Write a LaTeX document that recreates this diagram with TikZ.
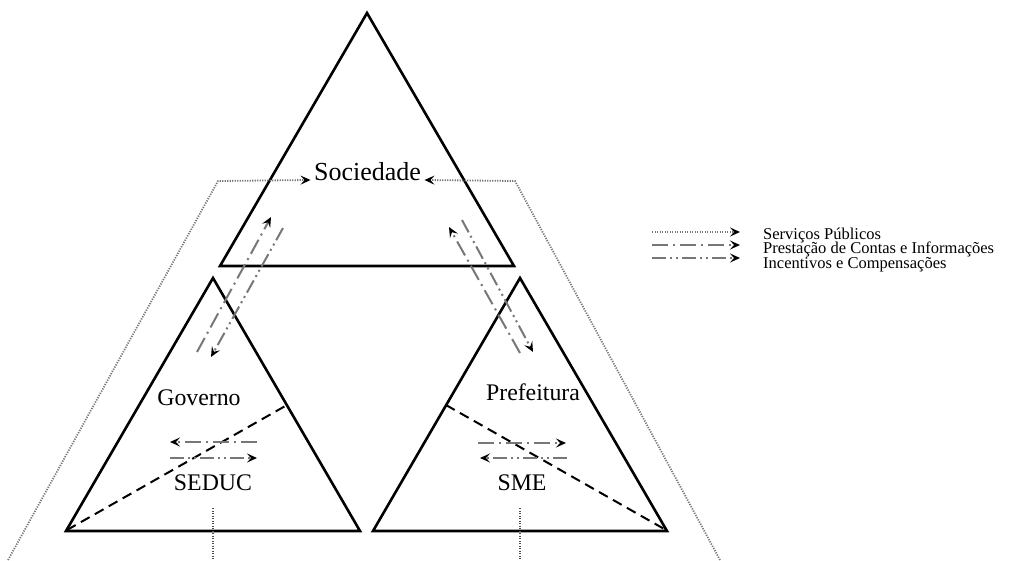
\documentclass[tikz,border=0pt]{standalone}
\usepackage{fontspec}
\setmainfont{Liberation Serif}
\usetikzlibrary{arrows.meta}
\definecolor{flgray}{HTML}{777777}
\tikzset{
  tri/.style    ={line width=2.6pt, line join=miter},
  split/.style  ={line width=2pt, dash pattern=on 10pt off 6pt},
  servico/.style={flgray, line width=1.8pt, dash pattern=on 1.2pt off 1.3pt},
  conta/.style  ={flgray, line width=2pt, dash pattern=on 16pt off 5pt on 2pt off 5pt},
  incent/.style ={flgray, line width=2pt, dash pattern=on 14pt off 4pt on 2pt off 4pt on 2pt off 4pt},
  tip/.style    ={-{Stealth[length=10pt,width=9pt,inset=4pt,color=black]}},
  big/.style    ={font=\fontsize{26}{30}\selectfont, anchor=base},
  mid/.style    ={font=\fontsize{23.8}{28}\selectfont, anchor=base},
  leg/.style    ={font=\fontsize{16.5}{17}\selectfont, anchor=base west, inner sep=0pt},
}
\begin{document}
\begin{tikzpicture}[x=1pt,y=-1pt]
  \useasboundingbox (0,0) rectangle (1024,560);
  % --- the three triangles ---
  \draw[tri] (367,13) -- (514,266) -- (220,266) -- cycle;
  \draw[tri] (213,278) -- (360,531) -- (66,531) -- cycle;
  \draw[tri] (520,278) -- (667,531) -- (373,531) -- cycle;
  \draw[split] (67,530) -- (287,405);
  \draw[split] (446,405) -- (666,530);
  % --- labels ---
  \node[big] (soc) at (367.5,180) {Sociedade};
  \node[mid] (gov) at (199,405) {Governo};
  \node[mid] (sed) at (213,490) {SEDUC};
  \node[mid] (pre) at (533,400) {Prefeitura};
  \node[mid] (sme) at (522,490) {SME};
  % --- public services (dotted) ---
  \coordinate (sl) at (8,560);  \coordinate (slc) at (218,181);
  \coordinate (sr) at (720,560); \coordinate (src) at (515,181);
  \draw[servico,tip] (sl) -- (slc) -- (soc.base west);
  \draw[servico,tip] (sr) -- (src) -- (soc.base east);
  \coordinate (sdt) at (213,508); \coordinate (sdb) at (213,560);
  \coordinate (smt) at (520,508); \coordinate (smb) at (520,560);
  \draw[servico,line width=1.2pt,black!70] (sdt) -- (sdb);
  \draw[servico,line width=1.2pt,black!70] (smt) -- (smb);
  % --- accounts and incentives between the levels ---
  \coordinate (ga) at (197,352); \coordinate (gb) at (271,217);
  \coordinate (gc) at (283,228); \coordinate (gd) at (211,357);
  \draw[conta,tip] (ga) -- (gb);
  \draw[incent,tip] (gc) -- (gd);
  \coordinate (pa) at (520,353); \coordinate (pb) at (449,227);
  \coordinate (pc) at (462,220); \coordinate (pd) at (533,352);
  \draw[conta,tip] (pa) -- (pb);
  \draw[incent,tip] (pc) -- (pd);
  \coordinate (ha) at (257,442); \coordinate (hb) at (170,442);
  \coordinate (hc) at (170,458); \coordinate (hd) at (257,458);
  \draw[conta,tip] (ha) -- (hb);
  \draw[incent,tip] (hc) -- (hd);
  \coordinate (ka) at (478,443); \coordinate (kb) at (566,443);
  \coordinate (kc) at (567,458); \coordinate (kd) at (480,458);
  \draw[conta,tip] (ka) -- (kb);
  \draw[incent,tip] (kc) -- (kd);
  % --- legend ---
  \foreach \y/\s [count=\i] in {232/servico,245/conta,258/incent}{
    \coordinate (la\i) at (652,\y); \coordinate (lb\i) at (740,\y);
    \draw[\s,tip] (la\i) -- (lb\i);
  }
  \node[leg] (l1) at (763,239) {Serviços Públicos};
  \node[leg] (l2) at (763,253.5) {Prestação de Contas e Informações};
  \node[leg] (l3) at (763,268) {Incentivos e Compensações};
\end{tikzpicture}
\end{document}
